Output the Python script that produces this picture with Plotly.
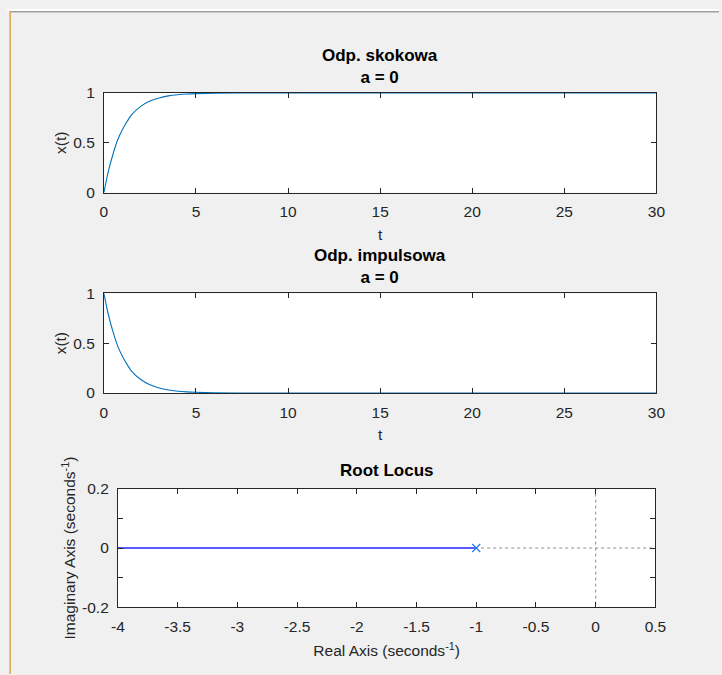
import plotly.graph_objects as go

# ---- data ----
t_vals = [0, 0.25, 0.5, 0.75, 1.0, 1.25, 1.5, 2.0, 2.5, 3.0, 3.5, 4.0, 4.5, 5.0, 6.0, 8.0, 10.0, 15.0, 20.0, 25.0, 30.0]
step_vals = [0.0, 0.22, 0.39, 0.53, 0.63, 0.71, 0.78, 0.865, 0.918, 0.95, 0.97, 0.982, 0.989, 0.993, 0.998, 1.0, 1.0, 1.0, 1.0, 1.0, 1.0]
impulse_vals = [1.0, 0.78, 0.61, 0.47, 0.37, 0.29, 0.22, 0.135, 0.082, 0.05, 0.03, 0.018, 0.011, 0.007, 0.002, 0.0, 0.0, 0.0, 0.0, 0.0, 0.0]

locus_re = [-10.0, -1.0]
locus_im = [0.0, 0.0]
pole_re = [-1.0]
pole_im = [0.0]

x_ticks_time = [0, 5, 10, 15, 20, 25, 30]
y_ticks_resp = [0, 0.5, 1]
y_ticklabels_resp = ["0", "0.5", "1"]
x_ticks_rl = [-4, -3.5, -3, -2.5, -2, -1.5, -1, -0.5, 0, 0.5]
x_ticklabels_rl = ["-4", "-3.5", "-3", "-2.5", "-2", "-1.5", "-1", "-0.5", "0", "0.5"]
y_ticks_rl = [-0.2, -0.1, 0, 0.1, 0.2]
y_ticklabels_rl = ["-0.2", "", "0", "", "0.2"]

# layout helpers: target positions are given in picture pixels
S = 0.978      # picture px per page px
OFF = 8        # page body margin
DX = 2         # small horizontal correction
W, H = 730, 682
FONT = "Liberation Sans, Arial, sans-serif"
AX = "#262626"
LINE = "#0072BD"
TICK_SIZE = 15.5
TITLE_SIZE = 17

def px_x(img):
    return ((img + DX) / S - OFF) / W

def px_y(img):
    return 1 - (img / S - OFF) / H

fig = go.Figure()
fig.add_trace(go.Scatter(x=t_vals, y=step_vals, mode="lines", line=dict(color=LINE, width=1.1, shape="spline"),
                         xaxis="x", yaxis="y", showlegend=False))
fig.add_trace(go.Scatter(x=t_vals, y=impulse_vals, mode="lines", line=dict(color=LINE, width=1.1, shape="spline"),
                         xaxis="x2", yaxis="y2", showlegend=False))
# dotted axes lines in root locus
fig.add_trace(go.Scatter(x=[-10, 10], y=[0, 0], mode="lines", line=dict(color="#8c8c8c", width=1, dash="dot"),
                         xaxis="x3", yaxis="y3", showlegend=False))
fig.add_trace(go.Scatter(x=[0, 0], y=[-1, 1], mode="lines", line=dict(color="#8c8c8c", width=1, dash="dot"),
                         xaxis="x3", yaxis="y3", showlegend=False))
fig.add_trace(go.Scatter(x=locus_re, y=locus_im, mode="lines", line=dict(color="#5a5aff", width=2),
                         xaxis="x3", yaxis="y3", showlegend=False))
fig.add_trace(go.Scatter(x=pole_re, y=pole_im, mode="markers",
                         marker=dict(symbol="x-thin", size=8, line=dict(color="#2a7fe0", width=1.3)),
                         xaxis="x3", yaxis="y3", showlegend=False))

common = dict(showgrid=False, zeroline=False, showline=True, linecolor=AX, linewidth=1, mirror="allticks",
              ticks="inside", tickcolor=AX, ticklen=5, ticklabelstandoff=5,
              tickfont=dict(family=FONT, size=TICK_SIZE, color=AX),
              title_font=dict(family=FONT, size=TICK_SIZE, color=AX))

dom_x12 = [px_x(103), px_x(657)]
fig.update_layout(
    width=W, height=H, margin=dict(l=0, r=0, t=0, b=0),
    paper_bgcolor="#f0f0f0", plot_bgcolor="white",
    font=dict(family=FONT, size=TICK_SIZE, color=AX),
    xaxis=dict(domain=dom_x12, anchor="y", range=[0, 30], tickvals=x_ticks_time,
               title=dict(text="t", standoff=9), **common),
    yaxis=dict(domain=[px_y(192), px_y(92)], anchor="x", range=[0, 1], tickvals=y_ticks_resp,
               ticktext=y_ticklabels_resp, title=dict(text="x(t)", standoff=2), **common),
    xaxis2=dict(domain=dom_x12, anchor="y2", range=[0, 30], tickvals=x_ticks_time,
                title=dict(text="t", standoff=9), **common),
    yaxis2=dict(domain=[px_y(393), px_y(293)], anchor="x2", range=[0, 1], tickvals=y_ticks_resp,
                ticktext=y_ticklabels_resp, title=dict(text="x(t)", standoff=2), **common),
    xaxis3=dict(domain=[px_x(117), px_x(656)], anchor="y3", range=[-4, 0.5], tickvals=x_ticks_rl,
                ticktext=x_ticklabels_rl, title=dict(text="Real Axis (seconds<sup>-1</sup>)", standoff=11), **common),
    yaxis3=dict(domain=[px_y(608), px_y(489)], anchor="x3", range=[-0.2, 0.2], tickvals=y_ticks_rl,
                ticktext=y_ticklabels_rl, title=dict(text="Imaginary Axis (seconds<sup>-1</sup>)", standoff=2),
                **common),
)

titles = [
    ("<b>Odp. skokowa</b><br><b>a = 0</b>", (103 + 657) / 2, 88),
    ("<b>Odp. impulsowa</b><br><b>a = 0</b>", (103 + 657) / 2, 289),
    ("<b>Root Locus</b>", (117 + 656) / 2, 482),
]
for txt, xc, yb in titles:
    fig.add_annotation(text=txt, x=px_x(xc), y=px_y(yb), xref="paper", yref="paper",
                       xanchor="center", yanchor="bottom", showarrow=False,
                       font=dict(family=FONT, size=TITLE_SIZE, color="black"))

# window frame decoration
fig.add_shape(type="rect", xref="paper", yref="paper", x0=0, x1=1, y0=px_y(9.5), y1=1,
              fillcolor="white", line=dict(width=0), layer="above")
fig.add_shape(type="line", xref="paper", yref="paper", x0=px_x(9), x1=1, y0=px_y(10.5), y1=px_y(10.5),
              line=dict(color="#a0a0a0", width=1.5), layer="above")
fig.add_shape(type="line", xref="paper", yref="paper", x0=px_x(9), x1=px_x(9), y0=0, y1=px_y(9.5),
              line=dict(color="#d8a54e", width=1.5), layer="above")

fig.write_html("out.html")
